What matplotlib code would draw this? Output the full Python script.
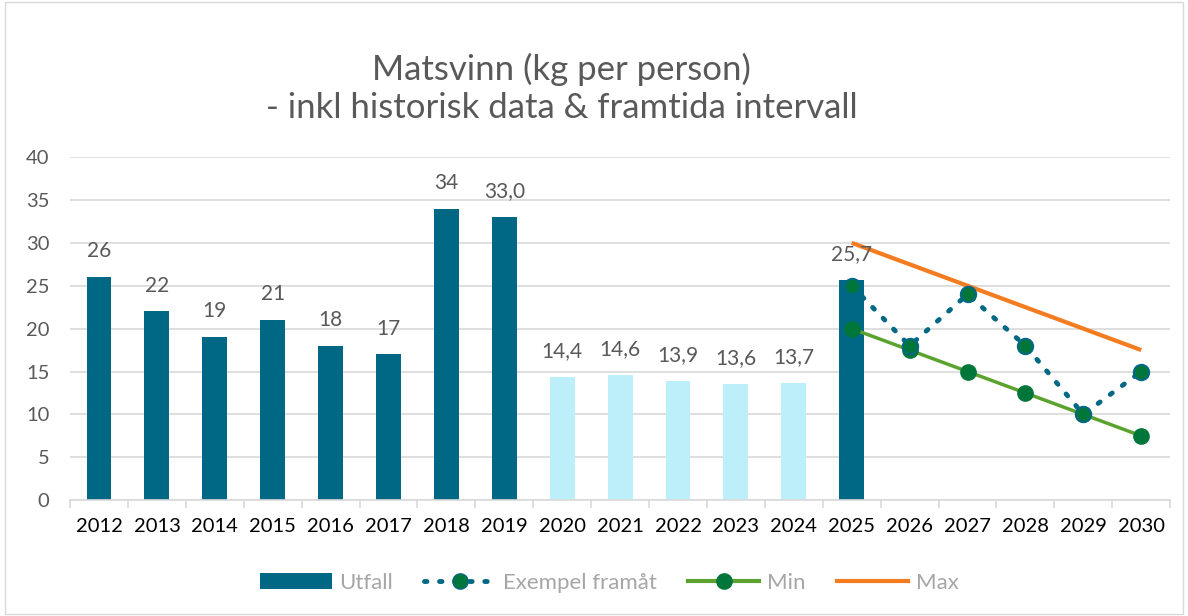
import numpy as np
import matplotlib.pyplot as plt
from matplotlib.lines import Line2D
from matplotlib.patches import Patch, Rectangle

plt.rcParams["font.family"] = ["Lato", "DejaVu Sans"]

# ---- data
years = [str(y) for y in range(2012, 2031)]
utfall_years = ["2012", "2013", "2014", "2015", "2016", "2017", "2018", "2019",
                "2020", "2021", "2022", "2023", "2024", "2025"]
utfall = [26, 22, 19, 21, 18, 17, 34, 33.0, 14.4, 14.6, 13.9, 13.6, 13.7, 25.7]
utfall_labels = ["26", "22", "19", "21", "18", "17", "34", "33,0",
                 "14,4", "14,6", "13,9", "13,6", "13,7", "25,7"]
light_years = ["2020", "2021", "2022", "2023", "2024"]

fut_years = ["2025", "2026", "2027", "2028", "2029", "2030"]
exempel = [25, 18, 24, 18, 10, 15]
min_vals = [20, 17.5, 15, 12.5, 10, 7.5]
max_years = ["2025", "2030"]
max_vals = [30, 17.5]

TEAL = "#006884"
LIGHT = "#BDEFFB"
GREEN_LINE = "#5BA32E"
GREEN_MK = "#00763A"
ORANGE = "#F47C20"
GRID = "#D9D9D9"
TXT = "#595959"
DOTS = (0, (0.5, 2.6))

fig = plt.figure(figsize=(11.88, 6.16), dpi=100)
fig.patches.append(Rectangle((0.004, 0.004), 0.992, 0.992, transform=fig.transFigure,
                             fill=False, edgecolor="#D9D9D9", linewidth=1))
ax = fig.add_axes([0.059, 0.188, 0.926, 0.557])

xi = {y: i for i, y in enumerate(years)}

# bars
bx = [xi[y] for y in utfall_years]
bcol = [LIGHT if y in light_years else TEAL for y in utfall_years]
ax.bar(bx, utfall, width=0.43, color=bcol, zorder=2)
for x, v, lab in zip(bx, utfall, utfall_labels):
    ax.text(x, v + 3.0, lab, ha="center", va="center", fontsize=15, color=TXT, zorder=5)

# lines
fx = [xi[y] for y in fut_years]
ax.plot([xi[y] for y in max_years], max_vals, color=ORANGE, lw=3, zorder=3,
        solid_capstyle="butt")
ax.plot(fx, min_vals, color=GREEN_LINE, lw=2.5, marker="o", ms=11,
        mfc=GREEN_MK, mec=GREEN_MK, zorder=4)
ax.plot(fx, exempel, color=TEAL, lw=3.5, linestyle=DOTS,
        dash_capstyle="round", marker="o", ms=11, mfc=GREEN_MK, mec=TEAL,
        mew=1.5, zorder=4)

ax.set_xlim(-0.5, len(years) - 0.5)
ax.set_ylim(0, 40)
ax.set_yticks(range(0, 41, 5))
ax.set_xticks(range(len(years)))
ax.set_xticklabels(years)
ax.set_xticks(np.arange(-0.5, len(years), 1), minor=True)
ax.grid(axis="y", color=GRID, lw=1.2, zorder=0)
ax.set_axisbelow(True)
for s in ["top", "right", "left"]:
    ax.spines[s].set_visible(False)
ax.spines["bottom"].set_color(GRID)
ax.spines["bottom"].set_linewidth(1.2)
ax.tick_params(axis="y", length=0, labelsize=14.5, labelcolor=TXT, pad=15)
ax.tick_params(axis="x", which="major", length=0, labelsize=14.5, labelcolor="#000000", pad=13)
ax.tick_params(axis="x", which="minor", length=6, color=GRID, width=1.2)

fig.text(0.473, 0.857, "Matsvinn (kg per person)\n- inkl historisk data & framtida intervall",
         ha="center", va="center", fontsize=25, color=TXT, linespacing=1.22)

handles = [
    Patch(facecolor=TEAL),
    Line2D([], [], color=TEAL, lw=3.5, linestyle=DOTS, dash_capstyle="round",
           marker="o", ms=11, mfc=GREEN_MK, mec=TEAL),
    Line2D([], [], color=GREEN_LINE, lw=3, marker="o", ms=11, mfc=GREEN_MK, mec=GREEN_MK),
    Line2D([], [], color=ORANGE, lw=3),
]
labels = ["Utfall", "Exempel framåt", "Min", "Max"]
leg = fig.legend(handles, labels, loc="center", bbox_to_anchor=(0.513, 0.054), ncol=4,
                 frameon=False, fontsize=16, handlelength=3.2, handleheight=0.75,
                 columnspacing=1.4, handletextpad=0.35)
for t in leg.get_texts():
    t.set_color("#A6A6A6")

fig.savefig("out.png", dpi=100)
